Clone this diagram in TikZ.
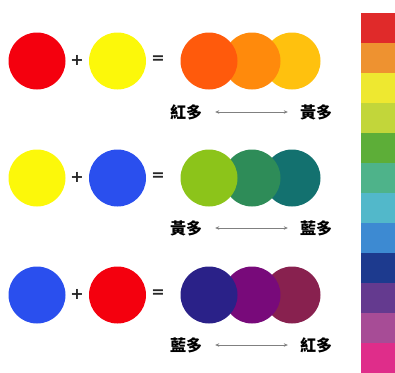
\documentclass[tikz,border=0pt]{standalone}
\usepackage{fontspec}
\usepackage{tikz}
\usetikzlibrary{positioning,arrows.meta}
\newfontfamily\cjk{Noto Sans CJK TC}
\newfontfamily\signfont{DejaVu Sans}
\definecolor{mixred}{HTML}{F4000E}
\definecolor{mixyellow}{HTML}{FCF80A}
\definecolor{mixblue}{HTML}{2A4FEE}
\definecolor{resa}{HTML}{FF5A0C}
\definecolor{resb}{HTML}{FF8A0C}
\definecolor{resc}{HTML}{FFC10E}
\definecolor{resd}{HTML}{8CC41A}
\definecolor{rese}{HTML}{2E8C58}
\definecolor{resf}{HTML}{13716F}
\definecolor{resg}{HTML}{2A2188}
\definecolor{resh}{HTML}{780A7A}
\definecolor{resi}{HTML}{88214F}
\tikzset{
  dot/.style={circle,inner sep=0pt,minimum size=57pt,fill=#1},
  sign/.style={font=\signfont\bfseries\fontsize{16}{16}\selectfont,inner sep=0pt,text=black!85},
  tag/.style={font=\cjk\bfseries\fontsize{16}{16}\selectfont,inner sep=0pt},
  span/.style={gray,line width=0.6pt,{Stealth[length=4pt,width=3.5pt]}-{Stealth[length=4pt,width=3.5pt]}}
}
\begin{document}
\begin{tikzpicture}[x=1pt,y=-1pt]
\useasboundingbox (0,0) rectangle (395,372);
% colour strip
\foreach \c [count=\i from 0] in {E02A2A,EE9230,EEE830,C2D63A,5DAE38,4EB38A,52B8CA,3D8AD2,1D3A8E,643A8F,A74C96,DF2D8A} {
  \definecolor{band}{HTML}{\c}
  \path[fill=band] (361,13+30*\i) rectangle (395,43+30*\i);
}
% row 1: red + yellow
\node[dot=mixred] (r1a) at (37,61) {};
\node[dot=mixyellow] (r1b) at (117.5,61) {};
\node[sign] (p1) at (77,60) {+};
\node[sign] (e1) at (158,60) {=};
\node[dot=resc] (r1z) at (292,61) {};
\node[dot=resb] (r1y) at (252,61) {};
\node[dot=resa] (r1x) at (209,61) {};
\node[tag] (l1) at (186,112) {紅多};
\node[tag] (m1) at (316,112) {黃多};
\draw[span] ([xshift=13pt]l1.east) -- ([xshift=-12pt]m1.west);
% row 2: yellow + blue
\node[dot=mixyellow] (r2a) at (37,178) {};
\node[dot=mixblue] (r2b) at (117.5,178) {};
\node[sign] (p2) at (77,177) {+};
\node[sign] (e2) at (158,177) {=};
\node[dot=resf] (r2z) at (292,178) {};
\node[dot=rese] (r2y) at (252,178) {};
\node[dot=resd] (r2x) at (209,178) {};
\node[tag] (l2) at (186,228) {黃多};
\node[tag] (m2) at (316,228) {藍多};
\draw[span] ([xshift=13pt]l2.east) -- ([xshift=-12pt]m2.west);
% row 3: blue + red
\node[dot=mixblue] (r3a) at (37,295) {};
\node[dot=mixred] (r3b) at (117.5,295) {};
\node[sign] (p3) at (77,294) {+};
\node[sign] (e3) at (158,294) {=};
\node[dot=resi] (r3z) at (292,295) {};
\node[dot=resh] (r3y) at (252,295) {};
\node[dot=resg] (r3x) at (209,295) {};
\node[tag] (l3) at (186,345) {藍多};
\node[tag] (m3) at (316,345) {紅多};
\draw[span] ([xshift=13pt]l3.east) -- ([xshift=-12pt]m3.west);
\end{tikzpicture}
\end{document}
